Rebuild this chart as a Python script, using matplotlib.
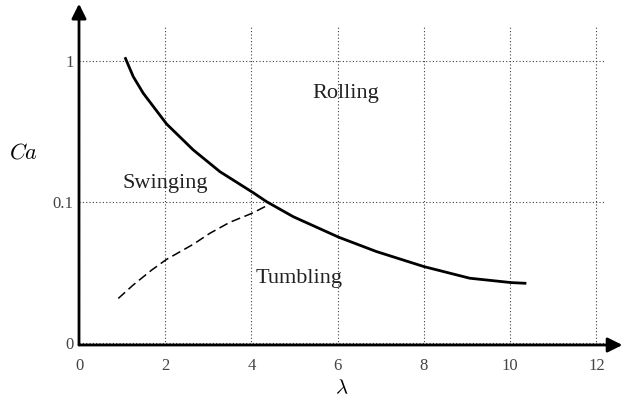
import matplotlib
matplotlib.use("Agg")
import matplotlib.pyplot as plt

# boundary Rolling / (Swinging, Tumbling)
solid_lam = [1.066, 1.258, 1.490, 2.032, 2.649, 3.268, 4.039, 4.350, 4.966,
             6.026, 6.899, 8.002, 9.061, 10.028, 10.375]
solid_ca = [1.062, 0.774, 0.590, 0.357, 0.234, 0.164, 0.1164, 0.1005, 0.0787,
            0.0562, 0.0445, 0.0348, 0.0288, 0.0268, 0.0265]

# boundary Swinging / Tumbling
dash_lam = [0.911, 1.258, 1.685, 2.032, 2.649, 3.036, 3.499, 4.016, 4.387]
dash_ca = [0.0207, 0.0258, 0.0329, 0.0392, 0.0501, 0.0600, 0.0718, 0.0832, 0.0952]

x_ticks = [0, 2, 4, 6, 8, 10, 12]
y_ticks = [0.01, 0.1, 1]
y_tick_labels = ["0", "0.1", "1"]

regions = [("Rolling", 6.19, 0.549), ("Swinging", 2.01, 0.126), ("Tumbling", 5.10, 0.0266)]

plt.rcParams.update({
    "font.family": "Liberation Serif",
    "mathtext.fontset": "cm",
})

fig = plt.figure(figsize=(6.27, 4.0), dpi=100)
ax = fig.add_axes([0.126, 0.1375, 0.839, 0.795])

ax.set_yscale("log")
ax.set_xlim(0, 12.2)
ax.set_ylim(0.00968, 1.74)

ax.plot(solid_lam, solid_ca, color="black", lw=2.0, solid_capstyle="butt")
ax.plot(dash_lam, dash_ca, color="black", lw=1.1, linestyle=(0, (6, 3)))

for name, x, y in regions:
    ax.text(x, y, name, ha="center", va="baseline", fontsize=16, color="#222222")

ax.set_xticks(x_ticks)
ax.set_yticks(y_ticks)
ax.set_yticklabels(y_tick_labels)
ax.yaxis.set_minor_locator(plt.NullLocator())
ax.tick_params(length=0, labelsize=12, labelcolor="#444444")
ax.tick_params(axis="x", pad=9)
ax.tick_params(axis="y", pad=4)

ax.grid(True, linestyle=(0, (1, 2)), color="0.25", lw=0.8)

for side in ["top", "right", "bottom", "left"]:
    ax.spines[side].set_visible(False)

arrow = dict(arrowstyle="-|>", lw=2, color="black", mutation_scale=22, shrinkA=0, shrinkB=0)
ax.annotate("", xy=(1.033, 0), xytext=(0, 0), xycoords="axes fraction", arrowprops=arrow)
ax.annotate("", xy=(0, 1.073), xytext=(0, 0), xycoords="axes fraction", arrowprops=arrow)

ax.set_xlabel(r"$\lambda$", fontsize=15, labelpad=4)
ax.set_ylabel(r"$Ca$", fontsize=16, rotation=0)
ax.yaxis.set_label_coords(-0.1046, 0.57)

fig.savefig("out.png", dpi=100)
